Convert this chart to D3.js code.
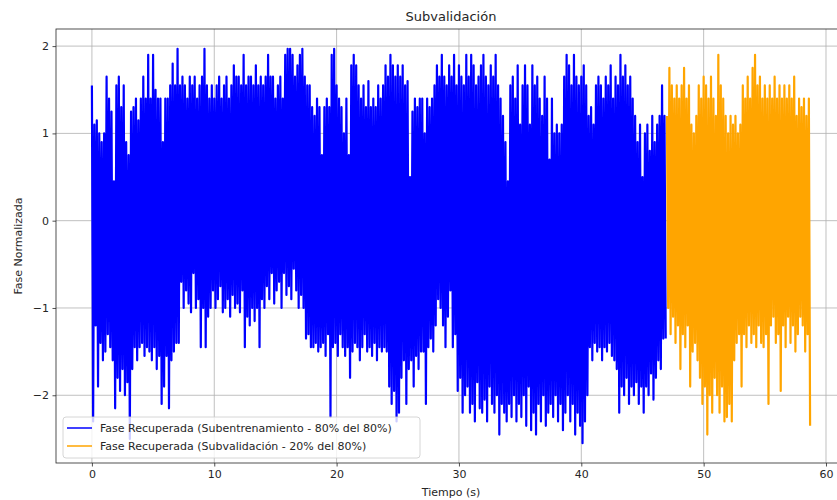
<!DOCTYPE html>
<html>
<head>
<meta charset="utf-8">
<script src="https://cdn.jsdelivr.net/npm/d3@7"></script>
<style>
  body { margin: 0; background: #fff; }
  text { font-family: "DejaVu Sans", sans-serif; fill: #262626; }
</style>
</head>
<body>
<svg id="chart"></svg>
<script>
// samples, one row per second (10 samples/s)
var blueValues = [
  1.55,-2.3,1.1,-1.2,1.15,-1.9,1.0,-1.4,0.9,-1.6,
  1.0,-1.5,1.65,-1.3,1.4,-1.45,1.25,-1.6,0.45,-2.15,
  1.55,-1.8,1.65,-1.95,1.3,-1.7,1.55,-2.0,0.9,-1.85,
  0.75,-2.5,1.25,-1.7,1.3,-1.45,1.4,-1.6,1.15,-1.45,
  1.4,-1.4,1.65,-1.55,1.4,-1.45,1.9,-1.5,1.4,-1.6,
  1.9,-1.45,1.5,-1.7,1.4,-1.55,1.4,-2.1,0.9,-1.9,
  1.4,-1.55,1.4,-2.15,1.55,-1.6,1.8,-1.5,1.55,-1.4,
  1.97,-1.4,1.55,-0.7,1.65,-1.0,1.55,-0.8,1.4,-0.95,
  1.65,-1.05,1.55,-0.6,1.65,-1.0,1.4,-0.9,1.55,-1.45,
  1.65,-1.0,1.97,-1.45,1.55,-1.1,1.4,-1.0,1.55,-0.8,
  1.4,-1.0,1.55,-0.9,1.65,-0.75,1.4,-1.05,1.55,-1.0,
  1.65,-0.9,1.4,-1.1,1.55,-0.85,1.78,-1.0,1.65,-0.95,
  1.65,-1.05,1.55,-0.8,1.9,-1.45,1.55,-1.1,1.65,-1.2,
  1.65,-1.0,1.55,-1.15,1.78,-1.0,1.55,-1.45,1.65,-0.9,
  1.55,-1.0,1.65,-0.75,1.9,-0.9,1.65,-0.6,1.65,-0.95,
  1.4,-0.8,1.55,-0.7,1.65,-1.0,1.4,-0.6,1.9,-0.85,
  1.97,-0.75,1.97,-0.9,1.9,-0.55,1.65,-0.8,1.78,-1.0,
  1.9,-0.85,1.97,-1.0,1.65,-1.35,1.55,-1.3,1.55,-1.45,
  1.3,-1.45,1.2,-1.4,1.4,-1.5,1.3,-1.45,0.75,-1.4,
  1.3,-1.55,1.4,-1.3,1.3,-2.25,1.9,-1.45,1.97,-1.4,
  1.55,-1.55,1.4,-1.3,1.3,-1.45,1.0,-1.55,1.4,-1.45,
  0.75,-1.8,1.78,-1.5,1.9,-1.4,1.78,-1.45,1.55,-1.6,
  1.4,-1.45,1.55,-1.3,1.3,-1.5,1.6,-1.45,1.3,-1.55,
  1.4,-1.4,1.3,-1.6,1.55,-1.45,1.4,-1.5,1.55,-1.45,
  1.78,-1.5,1.65,-1.9,1.9,-2.1,1.78,-1.95,1.65,-2.3,
  1.78,-2.2,1.65,-1.8,1.78,-1.6,1.55,-2.1,1.6,-1.7,
  0.5,-1.6,1.25,-1.9,1.4,-1.55,1.3,-1.7,1.4,-1.5,
  1.4,-1.5,1.0,-2.1,1.4,-1.45,1.3,-1.35,1.4,-1.5,
  1.55,-1.2,1.78,-0.9,1.65,-1.0,1.9,-1.2,1.65,-1.45,
  1.55,-1.1,1.78,-0.8,1.65,-1.45,1.9,-1.3,1.55,-1.95,
  1.78,-1.8,1.65,-2.2,1.55,-2.0,1.9,-1.9,1.65,-2.2,
  1.9,-2.1,1.78,-2.3,1.55,-1.85,1.65,-2.15,1.78,-2.2,
  1.9,-2.05,1.65,-2.3,1.55,-1.9,1.78,-2.1,1.65,-2.2,
  1.9,-2.0,1.55,-2.45,1.4,-2.1,1.2,-2.2,0.9,-2.3,
  0.45,-2.1,1.55,-2.25,1.65,-2.0,1.4,-2.3,1.78,-2.1,
  1.1,-2.25,1.55,-2.0,1.78,-2.35,1.55,-1.9,1.1,-2.4,
  1.78,-2.2,1.55,-2.45,1.65,-2.1,1.4,-2.3,1.2,-2.0,
  1.65,-2.35,1.4,-2.2,0.7,-2.1,1.4,-2.25,1.0,-2.0,
  1.1,-2.3,1.0,-2.1,1.1,-2.4,1.65,-2.2,1.9,-2.0,
  1.78,-2.3,1.55,-2.1,1.9,-2.45,1.65,-2.2,1.55,-2.35,
  1.65,-2.55,1.78,-2.3,1.55,-2.0,1.2,-1.45,1.3,-1.6,
  1.1,-1.4,1.55,-1.5,1.65,-1.45,1.55,-1.6,1.4,-1.45,
  1.65,-1.5,1.55,-1.4,1.78,-1.55,1.4,-1.6,1.65,-1.7,
  1.55,-2.2,1.9,-1.9,1.65,-2.0,1.78,-1.8,1.55,-2.1,
  1.65,-1.9,1.4,-2.0,1.2,-1.85,0.9,-2.1,1.1,-1.9,
  0.5,-2.2,1.0,-1.9,1.1,-2.0,0.8,-1.75,1.2,-2.05,
  0.9,-1.8,1.1,-1.6,1.2,-1.7,1.55,-1.35,1.2,-1.35
]

var orangeValues = [
  1.2,-1.0,1.75,-1.3,1.55,-1.1,1.4,-1.4,1.55,-1.2,
  1.4,-1.7,1.55,-1.3,1.75,-1.45,1.4,-1.2,1.55,-1.9,
  1.1,-1.5,1.0,-1.4,1.2,-1.6,1.55,-1.8,1.4,-2.1,
  1.65,-1.9,1.55,-2.45,1.4,-2.0,1.65,-2.2,1.4,-1.8,
  1.2,-2.0,1.9,-2.2,1.55,-1.9,1.4,-2.3,1.2,-2.25,
  1.0,-2.1,1.2,-2.3,1.1,-1.6,1.2,-1.4,1.0,-1.3,
  1.1,-1.9,1.55,-1.3,1.4,-1.45,1.65,-1.2,1.4,-1.4,
  1.75,-1.3,1.9,-1.45,1.55,-1.2,1.65,-1.4,1.4,-1.45,
  1.55,-1.3,1.4,-2.1,1.55,-1.2,1.4,-1.1,1.65,-1.4,
  1.4,-1.3,1.55,-1.95,1.4,-1.2,1.55,-1.45,1.4,-1.1,
  1.55,-1.4,1.4,-1.2,1.65,-1.5,1.2,-1.3,1.4,-1.1,
  1.3,-1.2,1.4,-1.5,1.2,-1.3,1.4,-2.35
]

var blueStart = 0
var orangeStart = 47
var step = 0.1

var xTicks = [0, 10, 20, 30, 40, 50, 60]
var yTicks = [-2, -1, 0, 1, 2]

var seriesNames = [
  "Fase Recuperada (Subentrenamiento - 80% del 80%)",
  "Fase Recuperada (Subvalidación - 20% del 80%)"
]
var seriesColors = ["#0000ff", "#ffa500"]

var screen = {width: 837, height: 500}
var margins = {top: 29, left: 56, bottom: 37, right: -9}
var graph = {
  width: screen.width - margins.left - margins.right,
  height: screen.height - margins.top - margins.bottom
}

var svg = d3.select("#chart")
  .attr("width", screen.width)
  .attr("height", screen.height)

var toPoints = function(values, start) {
  return values.map(function(v, i) {
    return {t: start + i * step, v: v}
  })
}
var bluePoints = toPoints(blueValues, blueStart)
var orangePoints = toPoints(orangeValues, orangeStart)
var all = bluePoints.concat(orangePoints)

// matplotlib style 5% margins
var xExt = d3.extent(all, function(d) { return d.t })
var yExt = d3.extent(all, function(d) { return d.v })
var xPad = (xExt[1] - xExt[0]) * 0.05
var yPad = (yExt[1] - yExt[0]) * 0.05

var xScale = d3.scaleLinear()
  .domain([xExt[0] - xPad, xExt[1] + xPad])
  .range([0, graph.width])
var yScale = d3.scaleLinear()
  .domain([yExt[0] - yPad, yExt[1] + yPad])
  .range([graph.height, 0])

var g = svg.append("g")
  .attr("transform", "translate(" + margins.left + "," + margins.top + ")")

//grid
g.append("g")
  .selectAll("line")
  .data(xTicks)
  .enter()
  .append("line")
  .attr("x1", function(d) { return xScale(d) })
  .attr("x2", function(d) { return xScale(d) })
  .attr("y1", 0)
  .attr("y2", graph.height)
  .attr("stroke", "#b0b0b0")
  .attr("stroke-width", 0.8)
g.append("g")
  .selectAll("line")
  .data(yTicks)
  .enter()
  .append("line")
  .attr("x1", 0)
  .attr("x2", graph.width)
  .attr("y1", function(d) { return yScale(d) })
  .attr("y2", function(d) { return yScale(d) })
  .attr("stroke", "#b0b0b0")
  .attr("stroke-width", 0.8)

var lineGenerator = d3.line()
  .x(function(d) { return xScale(d.t) })
  .y(function(d) { return yScale(d.v) })

g.append("path")
  .datum(bluePoints)
  .attr("d", lineGenerator)
  .attr("fill", "none")
  .attr("stroke", seriesColors[0])
  .attr("stroke-width", 2.2)
  .attr("stroke-linejoin", "round")
g.append("path")
  .datum(orangePoints)
  .attr("d", lineGenerator)
  .attr("fill", "none")
  .attr("stroke", seriesColors[1])
  .attr("stroke-width", 2.2)
  .attr("stroke-linejoin", "round")

//axes
var fmt = function(d) { return d < 0 ? "\u2212" + Math.abs(d) : "" + d }
var xAxis = d3.axisBottom(xScale).tickValues(xTicks).tickFormat(fmt)
  .tickSize(3.5).tickPadding(3.5)
var yAxis = d3.axisLeft(yScale).tickValues(yTicks).tickFormat(fmt)
  .tickSize(3.5).tickPadding(3.5)

var xa = g.append("g")
  .attr("transform", "translate(0," + graph.height + ")")
  .call(xAxis)
var ya = g.append("g").call(yAxis)
;[xa, ya].forEach(function(a) {
  a.select(".domain").remove()
  a.selectAll("text").attr("font-size", 11).attr("font-family", "DejaVu Sans").attr("fill", "#262626")
  a.selectAll("line").attr("stroke", "#262626").attr("stroke-width", 0.8)
})

g.append("rect")
  .attr("x", 0)
  .attr("y", 0)
  .attr("width", graph.width)
  .attr("height", graph.height)
  .attr("fill", "none")
  .attr("stroke", "#262626")
  .attr("stroke-width", 0.8)

//labels
svg.append("text")
  .text("Subvalidación")
  .attr("text-anchor", "middle")
  .attr("x", margins.left + graph.width / 2)
  .attr("y", 21)
  .attr("font-size", 13)
svg.append("text")
  .text("Tiempo (s)")
  .attr("text-anchor", "middle")
  .attr("x", margins.left + graph.width / 2)
  .attr("y", 496)
  .attr("font-size", 11)
svg.append("g")
  .attr("transform", "translate(22," + (margins.top + graph.height / 2) + ")")
  .append("text")
  .text("Fase Normalizada")
  .attr("text-anchor", "middle")
  .attr("transform", "rotate(-90)")
  .attr("font-size", 11)

//legend
var legend = g.append("g")
  .attr("transform", "translate(7," + (graph.height - 46) + ")")
legend.append("rect")
  .attr("width", 357)
  .attr("height", 41)
  .attr("rx", 3)
  .attr("fill", "#fff")
  .attr("fill-opacity", 0.8)
  .attr("stroke", "#cccccc")
  .attr("stroke-width", 0.8)
var items = legend.selectAll(".item")
  .data(seriesNames)
  .enter()
  .append("g")
  .attr("transform", function(d, i) { return "translate(0," + (11 + i * 18) + ")" })
items.append("line")
  .attr("x1", 4)
  .attr("x2", 29)
  .attr("stroke", function(d, i) { return seriesColors[i] })
  .attr("stroke-width", 1.5)
items.append("text")
  .text(function(d) { return d })
  .attr("x", 37)
  .attr("y", 4)
  .attr("font-size", 11)
</script>
</body>
</html>
